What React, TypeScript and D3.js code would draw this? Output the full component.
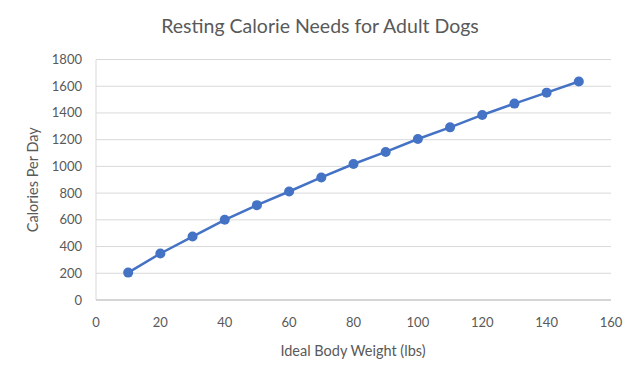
import React from "react";
import * as d3 from "d3";

const weights = [10, 20, 30, 40, 50, 60, 70, 80, 90, 100, 110, 120, 130, 140, 150];
const calories = [205, 348, 475, 600, 710, 812, 917, 1018, 1108, 1205, 1292, 1385, 1470, 1552, 1635];
const xTicks = [0, 20, 40, 60, 80, 100, 120, 140, 160];
const yTicks = [0, 200, 400, 600, 800, 1000, 1200, 1400, 1600, 1800];
const title = "Resting Calorie Needs for Adult Dogs";
const xTitle = "Ideal Body Weight (lbs)";
const yTitle = "Calories Per Day";

export default function App() {
  const W = 640, H = 376;
  const left = 96, right = 611, top = 59.5, bottom = 300;
  const x = d3.scaleLinear().domain([0, 160]).range([left, right]);
  const y = d3.scaleLinear().domain([0, 1800]).range([bottom, top]);
  const line = d3.line<number>().x((_, i) => x(weights[i])).y((d) => y(d));
  const font = "Lato, 'Open Sans', sans-serif";
  const grey = "#595959";
  return (
    <svg width={W} height={H} style={{ position: "absolute", left: 0, top: 0, background: "#fff" }} fontFamily={font}>
      <text x={W / 2} y={33} textAnchor="middle" fontSize={19.5} fill={grey}>{title}</text>
      {yTicks.map((t) => (
        <line key={"g" + t} x1={left} x2={right} y1={y(t)} y2={y(t)} stroke="#d9d9d9" strokeWidth={1} />
      ))}
      <line x1={left} x2={left} y1={top} y2={bottom} stroke="#d9d9d9" strokeWidth={1} />
      <line x1={left} x2={right} y1={bottom} y2={bottom} stroke="#bfbfbf" strokeWidth={1} />
      {yTicks.map((t) => (
        <text key={"y" + t} x={left - 14} y={y(t) + 4.5} textAnchor="end" fontSize={13} fill={grey}>{t}</text>
      ))}
      {xTicks.map((t) => (
        <text key={"x" + t} x={x(t)} y={bottom + 27} textAnchor="middle" fontSize={13} fill={grey}>{t}</text>
      ))}
      <text x={353} y={356} textAnchor="middle" fontSize={14.5} fill={grey}>{xTitle}</text>
      <text transform={`translate(38, ${(top + bottom) / 2}) rotate(-90)`} textAnchor="middle" fontSize={14.5} fill={grey}>{yTitle}</text>
      <path d={line(calories) || ""} fill="none" stroke="#4472C4" strokeWidth={2.5} />
      {calories.map((c, i) => (
        <circle key={i} cx={x(weights[i])} cy={y(c)} r={5} fill="#4472C4" />
      ))}
    </svg>
  );
}
